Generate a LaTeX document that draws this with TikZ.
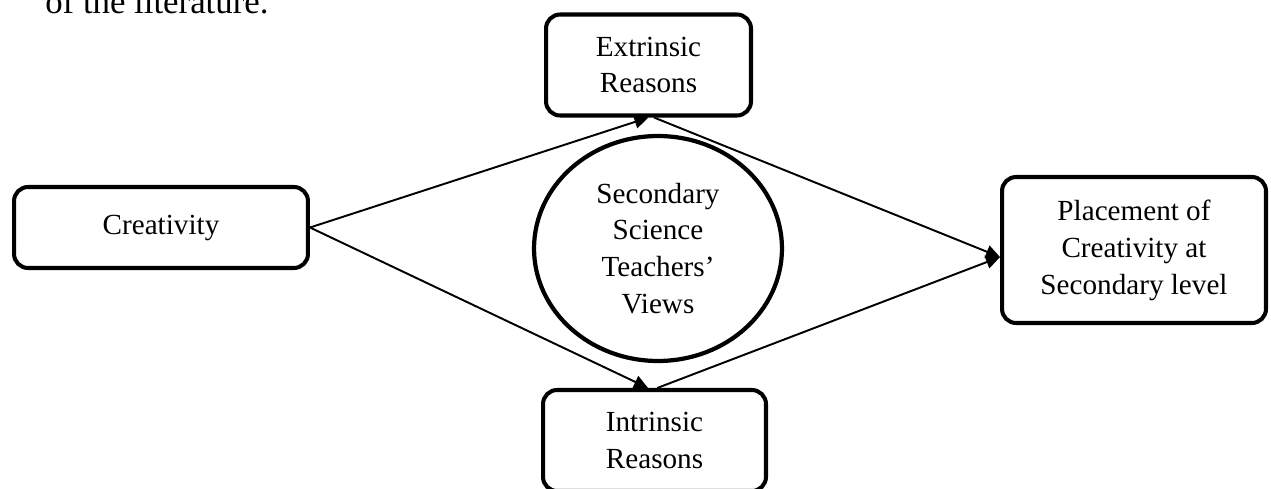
\documentclass[tikz,border=0pt]{standalone}
\usepackage{fontspec}
\setmainfont{Liberation Serif}
\usetikzlibrary{arrows.meta,shapes.geometric}

\tikzset{
  box/.style={draw,line width=2.3pt,rounded corners=8pt,align=center,inner sep=0pt},
  link/.style={line width=1.1pt,-{Triangle[length=8pt,width=7.5pt]}},
}

\begin{document}
\begin{tikzpicture}[x=0.02cm,y=0.02cm,font=\fontsize{16.6}{21}\selectfont]
  \useasboundingbox (0,0) rectangle (1271,488);
  \clip (0,0) rectangle (1271,488);

  % line of text above
  \node[anchor=base west,inner sep=0pt,font=\fontsize{19.8}{24}\selectfont] (caption) at (45,475) {of the literature.};

  % Boxes
  \node[box,minimum width=5.88cm,minimum height=1.62cm] (creat) at (161,260.5) {Creativity};
  \node[box,minimum width=4.1cm,minimum height=2.02cm] (extr) at (648.5,423) {Extrinsic\\Reasons};
  \node[box,minimum width=4.46cm,minimum height=2.02cm] (intr) at (654.5,47.5) {Intrinsic\\Reasons};
  \node[box,minimum width=5.28cm,minimum height=2.92cm] (place) at (1134,238) {Placement of\\Creativity at\\Secondary level};

  % Circle
  \node[draw,ellipse,line width=2.4pt,minimum width=4.96cm,minimum height=4.5cm,inner sep=0pt,align=center] (views) at (658,239.5) {Secondary\\Science\\Teachers'\\Views};

  % Arrows
  \draw[link] (creat.east) -- (extr.-90);
  \draw[link] (extr.-84) -- (place.183);
  \draw[link] (creat.east) -- (intr.97);
  \draw[link] (intr.87) -- (place.183);
\end{tikzpicture}
\end{document}
